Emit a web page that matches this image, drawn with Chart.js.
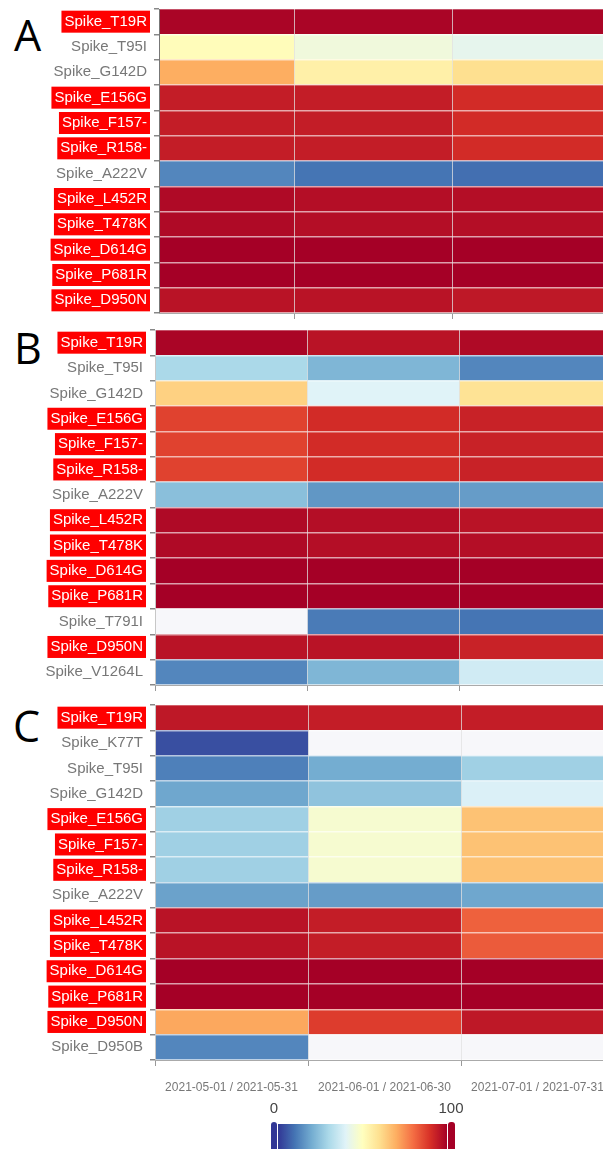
<!DOCTYPE html>
<html>
<head>
<meta charset="utf-8">
<script src="https://cdn.jsdelivr.net/npm/chart.js@4.4.1/dist/chart.umd.min.js"></script>
<style>
html, body { margin: 0; padding: 0; width: 603px; height: 1149px; overflow: hidden; background: #fff; }
canvas { position: absolute; left: 0; }
.tag { position: absolute; font-family: "Open Sans", sans-serif; font-size: 43px; line-height: 1; color: #000; }
.cb-label { position: absolute; font-family: "Liberation Sans", Arial, sans-serif; font-size: 15px; color: #444; transform: translateX(-50%); }
</style>
</head>
<body>
<div class="tag" style="left:14px;top:13px">A</div>
<div class="tag" style="left:14px;top:326px">B</div>
<div class="tag" style="left:13px;top:704px">C</div>

<canvas id="panelA" width="612" height="322" style="top:0px"></canvas>
<canvas id="panelB" width="613" height="370" style="top:322px"></canvas>
<canvas id="panelC" width="616" height="408" style="top:692px"></canvas>

<div class="cb-label" style="left:274px;top:1099px">0</div>
<div class="cb-label" style="left:451px;top:1099px">100</div>
<div id="cbCapLow" style="position:absolute;left:271px;top:1122px;width:6px;height:40px;border-radius:3px"></div>
<div id="cbBar" style="position:absolute;left:278px;top:1124px;width:169px;height:40px"></div>
<div id="cbCapHigh" style="position:absolute;left:448px;top:1122px;width:7px;height:40px;border-radius:3px"></div>

<script>
const periods = ["2021-05-01 / 2021-05-31", "2021-06-01 / 2021-06-30", "2021-07-01 / 2021-07-31"];

// mutations shown with a red label
const highlighted = ["Spike_T19R", "Spike_E156G", "Spike_F157-", "Spike_R158-", "Spike_L452R",
    "Spike_T478K", "Spike_D614G", "Spike_P681R", "Spike_D950N"];

// panel A
const rowsA = ["Spike_T19R", "Spike_T95I", "Spike_G142D", "Spike_E156G", "Spike_F157-", "Spike_R158-",
    "Spike_A222V", "Spike_L452R", "Spike_T478K", "Spike_D614G", "Spike_P681R", "Spike_D950N"];
const aMay = [99, 51, 70, 94, 94, 94, 13, 98, 98, 100, 100, 96];
const aJun = [99, 45, 55, 94, 94, 94, 10, 97, 97, 100, 100, 96];
const aJul = [99, 42, 60, 91, 91, 91, 9, 97, 97, 100, 100, 95];

// panel B
const rowsB = ["Spike_T19R", "Spike_T95I", "Spike_G142D", "Spike_E156G", "Spike_F157-", "Spike_R158-",
    "Spike_A222V", "Spike_L452R", "Spike_T478K", "Spike_D614G", "Spike_P681R", "Spike_T791I",
    "Spike_D950N", "Spike_V1264L"];
const bMay = [99, 30, 63, 87, 87, 87, 24, 98, 98, 100, 100, null, 96, 13];
const bJun = [96, 22, 40, 91, 91, 91, 16, 97, 97, 100, 100, 11, 96, 22];
const bJul = [98, 13, 59, 93, 93, 93, 17, 96, 97, 100, 100, 10, 93, 37];

// panel C
const rowsC = ["Spike_T19R", "Spike_K77T", "Spike_T95I", "Spike_G142D", "Spike_E156G", "Spike_F157-",
    "Spike_R158-", "Spike_A222V", "Spike_L452R", "Spike_T478K", "Spike_D614G", "Spike_P681R",
    "Spike_D950N", "Spike_D950B"];
const cMay = [95, 4, 12, 19, 28, 28, 28, 18, 96, 96, 100, 100, 71, 13];
const cJun = [94, null, 20, 25, 47, 47, 47, 17, 94, 94, 100, 100, 88, null];
const cJul = [94, null, 28, 39, 66, 66, 66, 19, 82, 83, 100, 100, 95, null];

// RdYlBu reversed, 0 -> 100
const colorStops = ["#313695", "#4575b4", "#74add1", "#abd9e9", "#e0f3f8", "#ffffbf",
    "#fee090", "#fdae61", "#f46d43", "#d73027", "#a50026"];
const missingColor = "#f7f7fa";

const labelFont = '"Liberation Sans", Arial, sans-serif';

function hexToRgb(h) {
    return [1, 3, 5].map(i => parseInt(h.substr(i, 2), 16));
}

function heatColor(v) {
    if (v === null) return missingColor;
    const t = Math.max(0, Math.min(100, v)) / 100 * (colorStops.length - 1);
    const i = Math.min(Math.floor(t), colorStops.length - 2);
    const f = t - i;
    const a = hexToRgb(colorStops[i]);
    const b = hexToRgb(colorStops[i + 1]);
    const c = a.map((x, k) => Math.round(x + (b[k] - x) * f));
    return `rgb(${c[0]},${c[1]},${c[2]})`;
}

function makePanel(id, rows, columns, cfg) {
    const datasets = columns.map((vals, i) => ({
        label: periods[i],
        data: rows.map(() => 1),
        backgroundColor: vals.map(heatColor),
        borderWidth: 0,
        barPercentage: 1,
        categoryPercentage: 1
    }));

    return new Chart(document.getElementById(id), {
        type: "bar",
        data: { labels: rows, datasets: datasets },
        options: {
            indexAxis: "y",
            responsive: false,
            animation: false,
            events: [],
            layout: { padding: { top: cfg.top, right: 2, left: 0, bottom: 0 } },
            plugins: { legend: { display: false }, tooltip: { enabled: false } },
            scales: {
                y: {
                    type: "category",
                    stacked: true,
                    afterFit: s => {
                        // fixed label column, and no extra room for half labels
                        s.width = cfg.left;
                        s.paddingTop = 0;
                        s.paddingBottom = 0;
                    },
                    grid: {
                        offset: true,
                        color: "rgba(255,255,255,0.62)",
                        lineWidth: 1.5,
                        z: 1,
                        tickLength: 5,
                        tickColor: "#888"
                    },
                    border: { display: true, color: "#777", z: 1 },
                    ticks: {
                        autoSkip: false,
                        padding: 7,
                        font: { family: labelFont, size: 15 },
                        color: ctx => highlighted.includes(rows[ctx.index]) ? "#fff" : "#777",
                        showLabelBackdrop: true,
                        backdropColor: ctx => highlighted.includes(rows[ctx.index]) ? "#ff0000" : "rgba(0,0,0,0)",
                        backdropPadding: { left: 3, right: 3, top: 2, bottom: 2 }
                    }
                },
                x: {
                    type: "linear",
                    stacked: true,
                    min: cfg.xMin,
                    max: 3,
                    afterBuildTicks: s => {
                        s.ticks = [0, 1, 2, 3].filter(v => v >= s.min).map(v => ({ value: v }));
                    },
                    afterFit: s => {
                        s.height = cfg.xHeight;
                        s.paddingLeft = 0;
                        s.paddingRight = 0;
                    },
                    ticks: { display: false },
                    grid: {
                        color: "rgba(225,225,225,0.75)",
                        lineWidth: 1,
                        z: 1,
                        tickLength: 6,
                        tickColor: "#999"
                    },
                    border: { display: true, color: "#aaa", z: 1 }
                },
                x2: {
                    type: "linear",
                    position: "bottom",
                    weight: 1,
                    display: cfg.showPeriods,
                    min: cfg.xMin,
                    max: 3,
                    afterBuildTicks: s => {
                        s.ticks = periods.map((p, i) => ({ value: i + 0.5 }));
                    },
                    afterFit: s => {
                        s.height = cfg.showPeriods ? 32 : 0;
                        s.paddingLeft = 0;
                        s.paddingRight = 0;
                    },
                    grid: { display: false, drawTicks: false },
                    border: { display: false },
                    ticks: {
                        callback: (v, i) => periods[i],
                        autoSkip: false,
                        maxRotation: 0,
                        padding: 12,
                        font: { family: labelFont, size: 12 },
                        color: "#777"
                    }
                }
            }
        }
    });
}

makePanel("panelA", rowsA, [aMay, aJun, aJul], { top: 9, left: 159, xMin: 0.145, xHeight: 9, showPeriods: false });
makePanel("panelB", rowsB, [bMay, bJun, bJul], { top: 8, left: 155, xMin: 0, xHeight: 7, showPeriods: false });
makePanel("panelC", rowsC, [cMay, cJun, cJul], { top: 13, left: 155, xMin: 0, xHeight: 8, showPeriods: true });

// colour bar
document.getElementById("cbBar").style.background =
    "linear-gradient(to right, " + colorStops.join(", ") + ")";
document.getElementById("cbCapLow").style.background = colorStops[0];
document.getElementById("cbCapHigh").style.background = colorStops[colorStops.length - 1];
</script>
</body>
</html>
